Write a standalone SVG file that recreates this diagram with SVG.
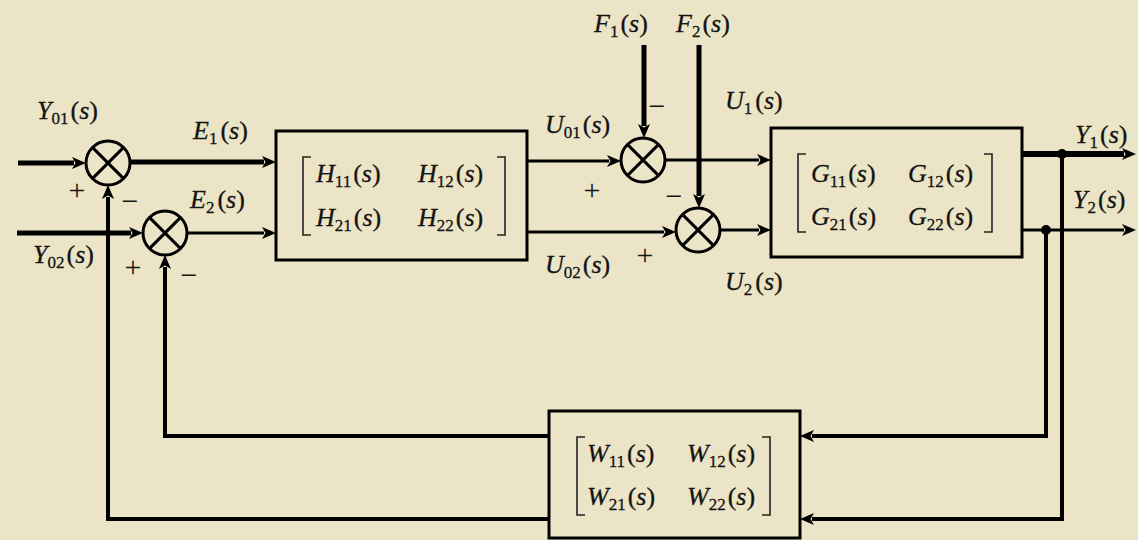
<svg xmlns="http://www.w3.org/2000/svg" width="1138" height="540" viewBox="0 0 1138 540">
<style>
text{font-family:"Liberation Serif","Times New Roman",serif;font-size:26px;fill:#141414;stroke:#141414;stroke-width:0.3}
.i{font-style:italic}
.sb{font-size:17px}
.sg{font-size:30px;text-anchor:middle;stroke-width:0}
.box{fill:none;stroke:#000;stroke-width:3}
.br{fill:none;stroke:#222;stroke-width:1.6}
.sum circle{fill:none;stroke:#000;stroke-width:3}
.sum path{stroke:#000;stroke-width:3}
.c{fill:none;stroke:#000;stroke-linejoin:miter}
.w3{stroke-width:3}
.w4{stroke-width:4}
.w5{stroke-width:5}
.w6{stroke-width:6}
.a{marker-end:url(#arr)}
</style>
<defs>
<marker id="arr" markerUnits="userSpaceOnUse" markerWidth="14" markerHeight="12" refX="2" refY="6" orient="auto">
<path d="M0,0 L14,6 L0,12 L3.5,6 z" fill="#000"/>
</marker>
</defs>
<rect x="0" y="0" width="1138" height="540" fill="#ECE4C6"/>

<g id="connectors">
<path class="c w5 a" d="M18,163 H74"/>
<path class="c w5 a" d="M130,162 H264"/>
<path class="c w5 a" d="M17,233 H131"/>
<path class="c w3 a" d="M187,233 H264"/>
<path class="c w4 a" d="M549,519 H108 V197"/>
<path class="c w4 a" d="M549,436 H165 V267"/>
<path class="c w3 a" d="M527,161 H609"/>
<path class="c w3 a" d="M527,232 H664"/>
<path class="c w5 a" d="M644,45 V126"/>
<path class="c w5 a" d="M699,45 V196"/>
<path class="c w3 a" d="M665,160 H759"/>
<path class="c w3 a" d="M720,230 H759"/>
<path class="c w6 a" d="M1022,154 H1124"/>
<path class="c w3 a" d="M1022,230 H1124"/>
<path class="c w4 a" d="M1062,154 V519 H812"/>
<path class="c w4 a" d="M1046,230 V436 H812"/>
<circle cx="1062" cy="154" r="5" fill="#000"/>
<circle cx="1046" cy="230" r="5" fill="#000"/>
</g>

<g id="sum1" class="sum"><circle cx="108" cy="163" r="22"/><path d="M92.4,147.4 L123.6,178.6 M123.6,147.4 L92.4,178.6"/></g>
<g id="sum2" class="sum"><circle cx="165" cy="233" r="22"/><path d="M149.4,217.4 L180.6,248.6 M180.6,217.4 L149.4,248.6"/></g>
<g id="sum3" class="sum"><circle cx="643" cy="160" r="22"/><path d="M627.4,144.4 L658.6,175.6 M658.6,144.4 L627.4,175.6"/></g>
<g id="sum4" class="sum"><circle cx="698" cy="230" r="22"/><path d="M682.4,214.4 L713.6,245.6 M713.6,214.4 L682.4,245.6"/></g>

<g id="H">
<rect class="box" x="276" y="131" width="251" height="129"/>
<path class="br" d="M311,157 H303 V235 H311 M497,157 H505 V235 H497"/>
<text x="316" y="182"><tspan class="i">H</tspan><tspan class="sb" dy="5">11</tspan><tspan dy="-5" dx="2">(</tspan><tspan class="i">s</tspan>)</text>
<text x="418" y="182"><tspan class="i">H</tspan><tspan class="sb" dy="5">12</tspan><tspan dy="-5" dx="2">(</tspan><tspan class="i">s</tspan>)</text>
<text x="316" y="226"><tspan class="i">H</tspan><tspan class="sb" dy="5">21</tspan><tspan dy="-5" dx="2">(</tspan><tspan class="i">s</tspan>)</text>
<text x="418" y="226"><tspan class="i">H</tspan><tspan class="sb" dy="5">22</tspan><tspan dy="-5" dx="2">(</tspan><tspan class="i">s</tspan>)</text>
</g>

<g id="G">
<rect class="box" x="771" y="128" width="251" height="129"/>
<path class="br" d="M806,154 H798 V232 H806 M984,154 H992 V232 H984"/>
<text x="811" y="182"><tspan class="i">G</tspan><tspan class="sb" dy="5">11</tspan><tspan dy="-5" dx="2">(</tspan><tspan class="i">s</tspan>)</text>
<text x="908" y="182"><tspan class="i">G</tspan><tspan class="sb" dy="5">12</tspan><tspan dy="-5" dx="2">(</tspan><tspan class="i">s</tspan>)</text>
<text x="811" y="225"><tspan class="i">G</tspan><tspan class="sb" dy="5">21</tspan><tspan dy="-5" dx="2">(</tspan><tspan class="i">s</tspan>)</text>
<text x="908" y="225"><tspan class="i">G</tspan><tspan class="sb" dy="5">22</tspan><tspan dy="-5" dx="2">(</tspan><tspan class="i">s</tspan>)</text>
</g>

<g id="W">
<rect class="box" x="549" y="411" width="251" height="127"/>
<path class="br" d="M585,437 H577 V515 H585 M762,437 H770 V515 H762"/>
<text x="587" y="462"><tspan class="i">W</tspan><tspan class="sb" dy="5">11</tspan><tspan dy="-5" dx="2">(</tspan><tspan class="i">s</tspan>)</text>
<text x="687" y="462"><tspan class="i">W</tspan><tspan class="sb" dy="5">12</tspan><tspan dy="-5" dx="2">(</tspan><tspan class="i">s</tspan>)</text>
<text x="587" y="505"><tspan class="i">W</tspan><tspan class="sb" dy="5">21</tspan><tspan dy="-5" dx="2">(</tspan><tspan class="i">s</tspan>)</text>
<text x="687" y="505"><tspan class="i">W</tspan><tspan class="sb" dy="5">22</tspan><tspan dy="-5" dx="2">(</tspan><tspan class="i">s</tspan>)</text>
</g>

<g id="labels">
<text x="37" y="119"><tspan class="i">Y</tspan><tspan class="sb" dy="5">01</tspan><tspan dy="-5" dx="2">(</tspan><tspan class="i">s</tspan>)</text>
<text x="193" y="139"><tspan class="i">E</tspan><tspan class="sb" dy="5">1</tspan><tspan dy="-5" dx="3">(</tspan><tspan class="i">s</tspan>)</text>
<text x="190" y="208"><tspan class="i">E</tspan><tspan class="sb" dy="5">2</tspan><tspan dy="-5" dx="3">(</tspan><tspan class="i">s</tspan>)</text>
<text x="33" y="263"><tspan class="i">Y</tspan><tspan class="sb" dy="5">02</tspan><tspan dy="-5" dx="2">(</tspan><tspan class="i">s</tspan>)</text>
<text x="594" y="32"><tspan class="i">F</tspan><tspan class="sb" dy="5">1</tspan><tspan dy="-5" dx="2">(</tspan><tspan class="i">s</tspan>)</text>
<text x="676" y="32"><tspan class="i">F</tspan><tspan class="sb" dy="5">2</tspan><tspan dy="-5" dx="2">(</tspan><tspan class="i">s</tspan>)</text>
<text x="545" y="133"><tspan class="i">U</tspan><tspan class="sb" dy="5">01</tspan><tspan dy="-5" dx="2">(</tspan><tspan class="i">s</tspan>)</text>
<text x="545" y="273"><tspan class="i">U</tspan><tspan class="sb" dy="5">02</tspan><tspan dy="-5" dx="2">(</tspan><tspan class="i">s</tspan>)</text>
<text x="725" y="109"><tspan class="i">U</tspan><tspan class="sb" dy="5">1</tspan><tspan dy="-5" dx="3">(</tspan><tspan class="i">s</tspan>)</text>
<text x="725" y="290"><tspan class="i">U</tspan><tspan class="sb" dy="5">2</tspan><tspan dy="-5" dx="3">(</tspan><tspan class="i">s</tspan>)</text>
<text x="1075" y="143"><tspan class="i">Y</tspan><tspan class="sb" dy="5">1</tspan><tspan dy="-5" dx="2">(</tspan><tspan class="i">s</tspan>)</text>
<text x="1073" y="208"><tspan class="i">Y</tspan><tspan class="sb" dy="5">2</tspan><tspan dy="-5" dx="2">(</tspan><tspan class="i">s</tspan>)</text>
<text class="sg" x="77" y="200">+</text>
<text class="sg" x="130" y="211">−</text>
<text class="sg" x="133" y="277">+</text>
<text class="sg" x="189" y="285">−</text>
<text class="sg" x="657" y="116">−</text>
<text class="sg" x="592" y="200">+</text>
<text class="sg" x="674" y="206">−</text>
<text class="sg" x="645" y="265">+</text>
</g>
</svg>
